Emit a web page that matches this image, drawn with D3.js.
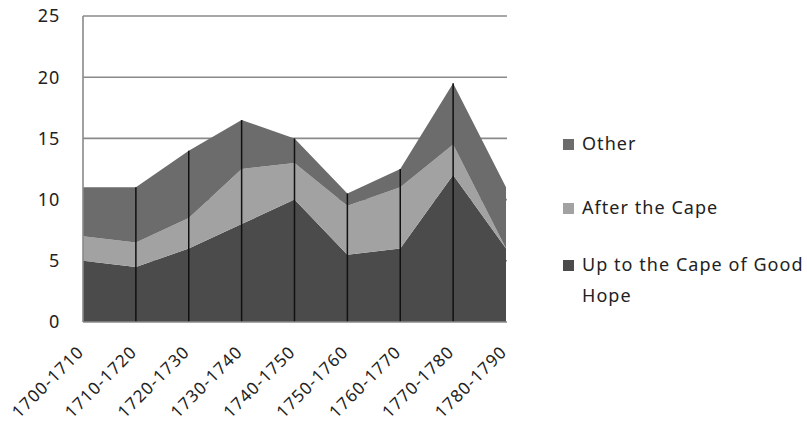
<!DOCTYPE html>
<html>
<head>
<meta charset="utf-8">
<script src="https://cdn.jsdelivr.net/npm/d3@7"></script>
<style>
  html, body { margin: 0; padding: 0; background: #fff; }
  svg { display: block; }
  text { font-family: "Noto Sans", "Open Sans", sans-serif; fill: #222; }
</style>
</head>
<body>
<div id="chart"></div>
<script>
// Decades of departure
const periods = ["1700-1710", "1710-1720", "1720-1730", "1730-1740", "1740-1750",
                 "1750-1760", "1760-1770", "1770-1780", "1780-1790"];

// Stacked series, bottom to top
const upToCape = [5, 4.5, 6, 8, 10, 5.5, 6, 12, 6];
const afterCape = [2, 2, 2.5, 4.5, 3, 4, 5, 2.5, 0];
const other = [4, 4.5, 5.5, 4, 2, 1, 1.5, 5, 5];

const seriesNames = ["Up to the Cape of Good Hope", "After the Cape", "Other"];
const seriesColors = ["#4b4b4b", "#a2a2a2", "#6c6c6c"];
const yTicks = [0, 5, 10, 15, 20, 25];

const W = 807, H = 423;
const plot = { left: 83, right: 506, top: 16, bottom: 322 };

const svg = d3.select("#chart").append("svg")
  .attr("width", W).attr("height", H);

const rows = periods.map((p, i) => ({
  period: p,
  [seriesNames[0]]: upToCape[i],
  [seriesNames[1]]: afterCape[i],
  [seriesNames[2]]: other[i]
}));

const stacked = d3.stack().keys(seriesNames)(rows);

const x = d3.scalePoint().domain(periods).range([plot.left, plot.right]);
const y = d3.scaleLinear().domain([0, 25]).range([plot.bottom, plot.top]);

// Horizontal gridlines
svg.append("g")
  .selectAll("line")
  .data(yTicks.filter(d => d > 0))
  .join("line")
  .attr("x1", plot.left).attr("x2", plot.right + 1)
  .attr("y1", d => y(d)).attr("y2", d => y(d))
  .attr("stroke", "#8a8a8a").attr("stroke-width", 1.6);

// Stacked areas
const area = d3.area()
  .x(d => x(d.data.period))
  .y0(d => y(d[0]))
  .y1(d => y(d[1]));

svg.append("g")
  .selectAll("path")
  .data(stacked)
  .join("path")
  .attr("d", area)
  .attr("fill", (d, i) => seriesColors[i]);

// Drop lines at interior categories
const total = periods.map((p, i) => upToCape[i] + afterCape[i] + other[i]);
svg.append("g")
  .selectAll("line")
  .data(periods.slice(1, -1))
  .join("line")
  .attr("x1", d => x(d)).attr("x2", d => x(d))
  .attr("y1", d => y(total[periods.indexOf(d)]))
  .attr("y2", y(0))
  .attr("stroke", "#111").attr("stroke-width", 1.5);

// Axes lines
svg.append("line")
  .attr("x1", plot.left).attr("x2", plot.left)
  .attr("y1", plot.top).attr("y2", plot.bottom)
  .attr("stroke", "#8a8a8a").attr("stroke-width", 1.6);
svg.append("line")
  .attr("x1", plot.left).attr("x2", plot.right + 1)
  .attr("y1", plot.bottom).attr("y2", plot.bottom)
  .attr("stroke", "#8a8a8a").attr("stroke-width", 1.6);

// Y tick labels
svg.append("g")
  .selectAll("text")
  .data(yTicks)
  .join("text")
  .attr("x", 60)
  .attr("y", d => y(d))
  .attr("dy", "0.35em")
  .attr("text-anchor", "end")
  .attr("font-size", 18)
  .attr("letter-spacing", 0.8)
  .text(d => d);

// X tick labels, rotated
svg.append("g")
  .selectAll("text")
  .data(periods)
  .join("text")
  .attr("transform", d => `translate(${x(d) + 2},${plot.bottom + 31}) rotate(-45)`)
  .attr("text-anchor", "end")
  .attr("font-size", 17)
  .attr("letter-spacing", 1.1)
  .text(d => d);

// Legend, top entry first
const legendItems = [
  { color: seriesColors[2], lines: ["Other"], y: 150 },
  { color: seriesColors[1], lines: ["After the Cape"], y: 214 },
  { color: seriesColors[0], lines: ["Up to the Cape of Good", "Hope"], y: 271 }
];

const legend = svg.append("g");
legendItems.forEach(item => {
  legend.append("rect")
    .attr("x", 563).attr("y", item.y - 11)
    .attr("width", 11).attr("height", 11)
    .attr("fill", item.color);
  const t = legend.append("text")
    .attr("x", 582).attr("y", item.y)
    .attr("font-size", 18)
    .attr("letter-spacing", 1.05);
  item.lines.forEach((ln, k) => {
    t.append("tspan").attr("x", 582).attr("dy", k === 0 ? 0 : 31).text(ln);
  });
});
</script>
</body>
</html>
